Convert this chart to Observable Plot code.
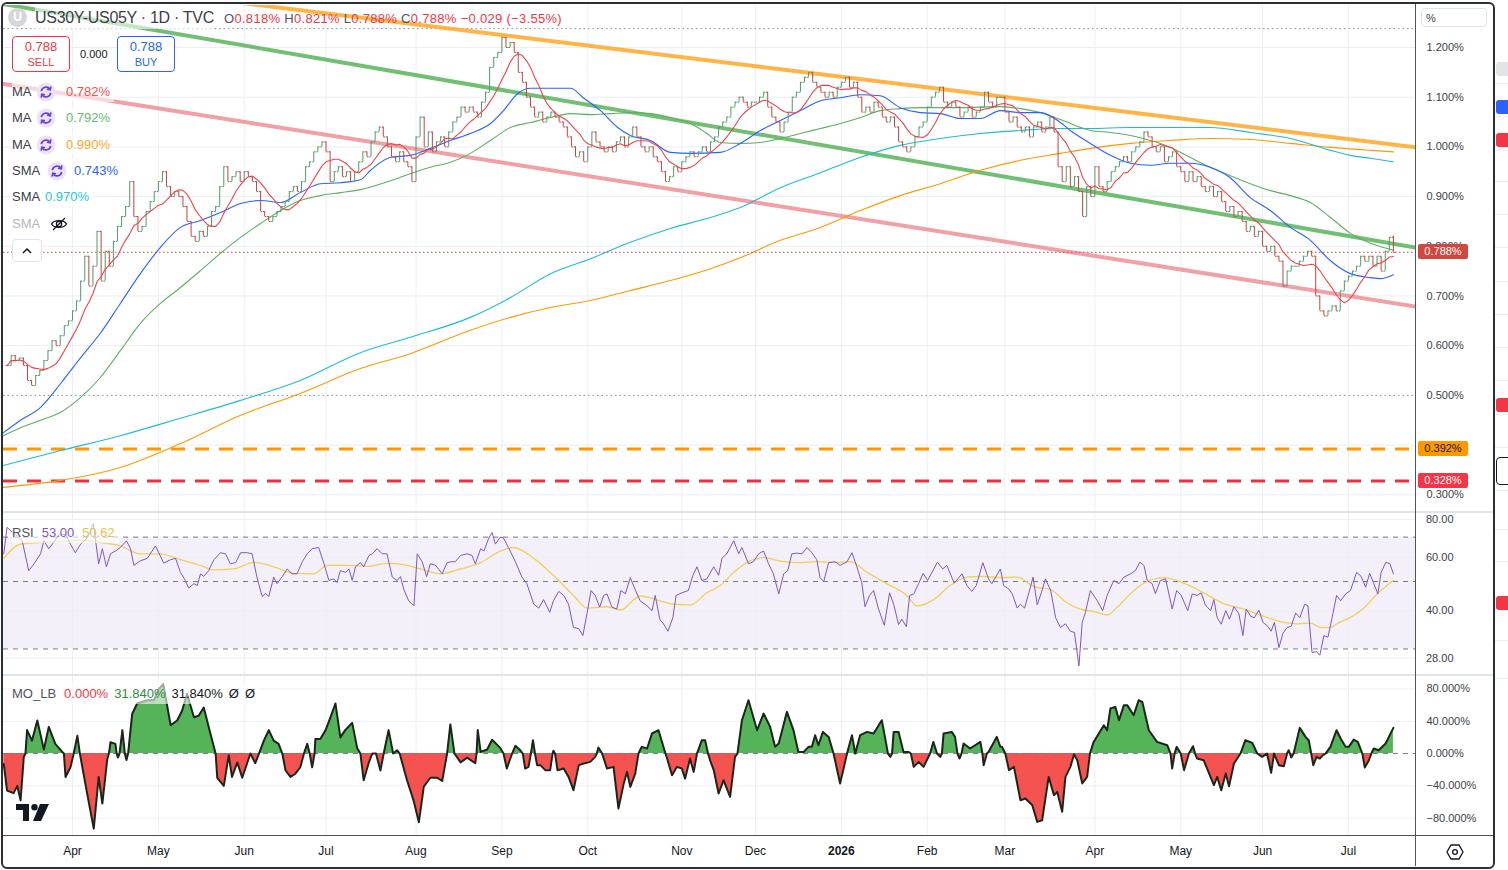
<!DOCTYPE html>
<html><head><meta charset="utf-8">
<script src="https://cdn.jsdelivr.net/npm/d3@7"></script>
<script src="https://cdn.jsdelivr.net/npm/@observablehq/plot@0.6"></script>
<style>
html,body{margin:0;padding:0;background:#fff;}
body{font-family:"Liberation Sans",Arial,sans-serif;color:#131722;}
#wrap{position:relative;width:1508px;height:870px;overflow:hidden;background:#fff;}
.abs{position:absolute;white-space:nowrap;}
.pane{position:absolute;left:3px;}
.pane svg{display:block;overflow:visible;}
.lg{position:absolute;left:12px;height:22px;line-height:22px;font-size:13px;background:rgba(255,255,255,0.6);padding-right:4px;white-space:nowrap;}
.lg span,.lg svg{display:inline-block;vertical-align:middle;}
.badge{position:absolute;left:1418px;width:50px;height:15px;line-height:15px;font-size:11px;text-align:center;border-radius:2px;}
.tk{position:absolute;left:1426px;font-size:11px;line-height:14px;height:14px;color:#3b3e48;white-space:nowrap;}
</style></head>
<body><div id="wrap"></div>
<script>
// ---------------- DATA ----------------
const monthLabels = ["Mar","Apr","May","Jun","Jul","Aug","Sep","Oct","Nov","Dec","2026","Feb","Mar","Apr","May","Jun","Jul"];
const monthBars   = [16,21,21,20,22,21,21,23,18,21,21,19,22,21,20,21,12];

// daily closes (%)
const closes = [
 0.56,0.58,0.57,0.575,0.56,0.53,0.52,0.54,0.55,0.57,0.59,0.61,0.60,0.62,0.64,0.65,
 0.67,0.69,0.73,0.78,0.72,0.76,0.83,0.73,0.79,0.76,0.81,0.84,0.86,0.88,0.93,0.86,0.83,0.84,0.87,0.89,0.91,
 0.93,0.95,0.92,0.90,0.91,0.90,0.88,0.85,0.82,0.81,0.83,0.82,0.84,0.87,0.88,0.92,0.96,0.93,0.94,0.95,0.93,
 0.95,0.94,0.93,0.91,0.87,0.86,0.85,0.86,0.87,0.88,0.89,0.91,0.92,0.91,0.93,0.96,0.97,0.99,1.00,1.01,
 0.99,0.93,0.95,0.96,0.94,0.95,0.93,0.95,0.97,0.99,0.98,1.01,1.03,1.04,1.02,1.00,0.98,0.97,0.99,0.97,0.96,0.93,
 1.02,1.06,1.00,1.03,0.99,1.01,1.02,1.00,1.03,1.05,1.06,1.08,1.07,1.08,1.07,1.06,1.09,1.11,1.16,1.18,1.19,
 1.22,1.20,1.21,1.19,1.15,1.13,1.10,1.08,1.06,1.07,1.05,1.06,1.07,1.06,1.05,1.04,1.02,1.00,0.98,0.99,0.97,
 1.00,1.03,1.01,1.00,0.99,1.00,0.99,1.01,1.02,1.00,1.02,1.04,1.02,1.00,0.99,1.00,0.98,0.97,0.95,0.93,0.94,0.96,0.95,
 0.97,0.98,0.99,0.98,0.99,1.00,0.99,1.01,1.02,1.04,1.05,1.06,1.08,1.09,1.10,1.09,1.08,1.09,
 1.09,1.10,1.11,1.08,1.06,1.05,1.03,1.05,1.07,1.10,1.11,1.13,1.14,1.15,1.13,1.12,1.11,1.10,1.11,1.10,1.12,
 1.13,1.14,1.12,1.13,1.10,1.07,1.08,1.07,1.09,1.08,1.06,1.05,1.06,1.04,1.01,1.00,0.99,1.00,1.02,1.04,1.05,
 1.08,1.10,1.11,1.12,1.09,1.08,1.09,1.08,1.06,1.07,1.08,1.06,1.07,1.08,1.11,1.09,1.08,1.10,1.10,
 1.07,1.05,1.06,1.04,1.03,1.04,1.02,1.04,1.05,1.03,1.04,1.06,1.03,0.96,0.93,0.96,0.92,0.94,0.91,0.86,0.92,0.90,
 0.96,0.92,0.91,0.93,0.95,0.96,0.97,0.98,0.97,0.99,1.00,1.01,1.03,1.02,1.00,0.99,1.00,0.97,0.98,0.99,0.96,
 0.95,0.93,0.95,0.93,0.94,0.92,0.91,0.92,0.90,0.91,0.89,0.87,0.88,0.86,0.87,0.85,0.83,0.84,0.82,0.83,
 0.80,0.79,0.80,0.78,0.77,0.72,0.75,0.76,0.76,0.77,0.78,0.79,0.78,0.70,0.67,0.66,0.67,0.68,0.67,0.71,0.73,
 0.74,0.75,0.76,0.78,0.77,0.78,0.76,0.78,0.75,0.79,0.818,0.788
];
const lastBarHigh = 0.821;

// moving averages: [bar index, value]
const smaBlue = [[-0.9,0.425],[3.3,0.450],[8.2,0.476],[13.1,0.524],[18,0.576],[22.8,0.625],[27.7,0.685],[32.6,0.745],[37.5,0.798],[42.4,0.838],[47.3,0.852],[52.2,0.868],[57.1,0.886],[62,0.892],[66.9,0.888],[71.7,0.908],[76.6,0.926],[81.5,0.928],[86.4,0.934],[88.9,0.953],[93.8,0.979],[98.6,0.983],[103.5,0.997],[108.4,1.013],[113.3,1.027],[118.2,1.047],[121.4,1.073],[124.8,1.107],[128,1.118],[132.9,1.118],[137.8,1.118],[140.9,1.099],[145.1,1.073],[149.3,1.039],[152.4,1.023],[157.3,1.013],[162.2,0.989],[167.1,0.987],[174.4,0.989],[179.3,1.007],[184.2,1.033],[189.1,1.053],[194,1.073],[198.9,1.093],[203.8,1.099],[208.7,1.105],[213.5,1.103],[218.4,1.079],[223.3,1.069],[228.2,1.067],[233.1,1.057],[238,1.057],[242.9,1.073],[247.8,1.069],[252.7,1.069],[257.6,1.049],[260,1.033],[264.9,1.007],[269.8,0.983],[274.7,0.967],[279.6,0.963],[284.5,0.967],[289.3,0.967],[294.2,0.959],[299.1,0.938],[304,0.898],[308.9,0.872],[313.8,0.838],[318.7,0.812],[323.6,0.771],[328.5,0.745],[333.4,0.737],[335.8,0.735],[339,0.743]];
const maGreen = [[-0.9,0.419],[3.3,0.435],[8.2,0.450],[13.1,0.466],[18,0.496],[22.8,0.536],[27.7,0.590],[32.6,0.645],[37.5,0.685],[42.4,0.717],[47.3,0.751],[52.2,0.786],[57.1,0.818],[62,0.846],[66.9,0.872],[71.7,0.892],[76.6,0.902],[81.5,0.908],[86.4,0.914],[93.8,0.932],[98.6,0.946],[103.5,0.959],[108.4,0.969],[113.3,0.987],[118.2,1.013],[123.1,1.039],[128,1.049],[132.9,1.059],[137.8,1.067],[142.7,1.065],[147.5,1.067],[152.4,1.069],[157.3,1.067],[162.2,1.059],[167.1,1.047],[170.8,1.029],[174.4,1.009],[179.3,1.007],[184.2,1.009],[189.1,1.017],[194,1.027],[198.9,1.037],[203.8,1.047],[208.7,1.059],[213.5,1.073],[218.4,1.077],[223.3,1.079],[233.1,1.079],[242.9,1.081],[247.8,1.077],[252.7,1.069],[257.6,1.055],[264.9,1.033],[269.8,1.029],[274.7,1.023],[279.6,1.013],[284.5,0.999],[289.3,0.979],[294.2,0.959],[299.1,0.942],[304,0.926],[308.9,0.912],[313.8,0.902],[318.7,0.888],[323.6,0.858],[328.5,0.826],[333.4,0.806],[339,0.792]];
const smaCyan = [[-0.9,0.359],[13.1,0.389],[27.7,0.419],[42.4,0.454],[57.1,0.490],[71.7,0.530],[86.4,0.586],[98.6,0.617],[113.3,0.657],[123.1,0.697],[132.9,0.745],[142.7,0.775],[152.4,0.808],[162.2,0.836],[172,0.858],[179.3,0.878],[189.1,0.918],[198.9,0.948],[208.7,0.979],[218.4,1.003],[228.2,1.017],[238,1.027],[247.8,1.033],[257.6,1.037],[264.9,1.037],[274.7,1.039],[284.5,1.039],[294.2,1.039],[304,1.029],[313.8,1.017],[323.6,0.993],[328.5,0.983],[333.4,0.977],[339,0.970]];
const maOrange = [[-0.9,0.315],[13.1,0.329],[27.7,0.355],[42.4,0.403],[57.1,0.460],[71.7,0.504],[86.4,0.554],[98.6,0.584],[113.3,0.631],[123.1,0.657],[132.9,0.677],[142.7,0.691],[152.4,0.711],[162.2,0.731],[172,0.755],[179.3,0.777],[189.1,0.812],[198.9,0.838],[208.7,0.872],[218.4,0.902],[228.2,0.926],[238,0.953],[247.8,0.973],[257.6,0.987],[264.9,0.997],[274.7,1.007],[284.5,1.013],[294.2,1.017],[304,1.015],[313.8,1.007],[323.6,0.999],[333.4,0.993],[339,0.990]];

// trend lines: [bar index, value]
const trendOrange = [[50,1.297],[344.4,0.999]];
const trendGreen  = [[-1.6,1.2885],[344.4,0.7976]];
const trendPink   = [[-1.6,1.1276],[344.4,0.6789]];
const levelOrange = 0.392, levelRed = 0.328, lastPrice = 0.788;
const dottedLevels = [1.238, 0.5];
const priceTicks = [0.3,0.4,0.5,0.6,0.7,0.8,0.9,1.0,1.1,1.2];

// RSI and its MA: [bar index, value]
const rsi = [[-0.8,61.7],[0,75.4],[1.3,72.5],[2.5,70.6],[3.7,68.1],[5.3,54.3],[6.6,57.2],[8.2,61.7],[9,68.1],[10.2,64.1],[11.4,67.2],[12.7,71.3],[14.3,71.3],[15.5,66.4],[16.7,62.2],[18,66.4],[19.6,69.5],[21.1,77.4],[22.4,57.2],[23.3,64.1],[24.3,55.9],[25.3,61.7],[26.5,63],[27.7,64.7],[29.2,68.1],[30.2,64.1],[31,56.5],[32.6,58.5],[34.3,59.6],[36.3,65.5],[37.1,62.2],[38.3,57.5],[40,59],[41.2,59.6],[42.4,53.6],[43.6,50.4],[44.4,47.6],[45.7,49.2],[46.5,48.5],[47.3,53],[48.1,52],[49.3,54.3],[50.6,59],[52.2,62.2],[53.4,61.7],[54.6,57.2],[55.9,57.7],[57.1,62.2],[58.7,62.2],[59.9,61.7],[61.2,51],[62.4,44.6],[63.2,45.7],[64,44.6],[65.2,51.7],[66,49.2],[67.3,51.9],[68.5,55],[69.7,53],[70.9,53],[72.2,58.1],[73.4,61.7],[74.6,64.1],[76.2,64.7],[77.5,57.2],[78.7,50.4],[79.9,51],[80.7,49.6],[81.5,54.3],[82.8,53.6],[83.6,55],[84.4,50.4],[85.2,55.9],[86.4,57.7],[87.2,55.9],[88.5,60.9],[89.3,61.7],[90.5,64.1],[91.7,61.7],[92.9,61.7],[94.2,51.7],[95.4,50.4],[96.2,51.9],[97,47.2],[98.2,43.2],[99.5,41.6],[100.3,61.7],[101.5,58.1],[102.6,51.9],[103.5,57.2],[104.8,56.5],[106.4,53],[107.6,57.7],[108.8,58.1],[109.6,58.1],[110.9,60.9],[112.5,61.7],[113.7,60.9],[114.5,57.2],[115.8,64.1],[116.6,63],[117.8,69.5],[118.6,72.5],[119.4,66.4],[120.6,70],[121.4,69.5],[122.6,64.7],[124.3,58.1],[125.9,51.7],[127.1,49.2],[128.8,42.1],[130,40.9],[131.2,43.6],[132.7,39.6],[133.6,43.2],[134.9,46.4],[136.1,45],[137.3,42.1],[138.5,35.3],[139.8,35],[140.8,33.2],[141.8,39.2],[142.8,46.7],[143.8,45],[144.9,41.2],[145.9,45],[146.7,45.5],[147.9,41.2],[149.1,40.6],[150.1,46.7],[151.2,45.6],[152.4,51.5],[153.6,47],[154.8,43.2],[156.5,41.6],[157.7,40.1],[158.5,45],[159.6,37.6],[160.5,36.3],[161.6,34.3],[162.8,38],[163.6,45],[165,45.9],[166.6,46.7],[167.7,52.4],[168.7,55.9],[169.9,50.4],[171.1,51],[172.8,55.9],[174,52.4],[174.8,59.6],[176,61.7],[177.7,68.1],[178.9,61.7],[179.7,64.7],[181.3,57.2],[182.5,58.1],[183.8,61.7],[185,63],[186.2,57.2],[187.4,53],[188.7,45.5],[189.9,53],[190.9,54.3],[191.9,61.7],[193.1,62],[194.4,61.7],[195.6,64.7],[196.8,62.2],[198,59],[198.8,51.5],[199.7,50],[200.9,57.7],[202.5,58.1],[203.7,56.5],[205.4,58.1],[206.6,62.2],[207.8,55.9],[209,49.6],[209.8,41.3],[210.9,45],[211.9,46.7],[213.1,40.6],[214.5,35.9],[215.8,45.9],[216.8,42.1],[218,36.1],[218.8,37.6],[219.9,35.5],[220.7,45],[221.7,45.5],[222.9,49.2],[224,53.2],[225.1,50.4],[226.4,54.3],[227.5,57.9],[228.8,55],[229.8,56.5],[231.6,49.4],[233.5,53],[234.7,48.5],[235.9,46.4],[237,48.5],[238.6,57.7],[240,51],[240.8,49.2],[242.9,55],[243.7,48.5],[245,47.2],[245.8,45.5],[247,40.9],[247.8,42.1],[248.8,40.9],[249.9,46.1],[250.9,51.7],[251.9,41.9],[252.9,45.9],[253.9,51],[255.2,46.7],[256.4,38],[257.6,35.3],[258.8,36.3],[260,34.3],[261,34],[262.1,26.4],[262.9,36.7],[263.7,39.6],[264.9,46.7],[266.6,43.2],[267.9,40.1],[269,45],[270.6,50.4],[271.9,49.2],[273.1,51.7],[274.7,53],[275.9,54.3],[277,57.9],[278,56.5],[278.8,50.4],[280,49.2],[280.8,45.6],[282,50.4],[283.3,51],[284.9,40.6],[286,46.7],[287.1,45],[288.7,40.1],[289.8,45.5],[291,45],[292,45.9],[293,41.9],[294.3,40.1],[295.1,43.6],[295.9,38],[296.9,36.2],[298,40.1],[298.9,37.6],[300,41.3],[301.2,39.2],[302.2,33.2],[303,40.6],[304.1,38.4],[305,38],[306.1,40.3],[307.1,36.7],[308.3,35.6],[309.1,34.3],[309.9,36.7],[311,30.3],[312,33.8],[313,35.3],[314,35.6],[315.1,39.4],[316.1,38],[317.3,42.1],[318.1,41.6],[319.1,29.2],[320.2,29.4],[321,28.6],[322,33.2],[323,32.8],[324,38],[325.1,45],[326.1,43.2],[327.3,45.5],[328.5,46.7],[330,53.6],[331.1,52],[332.2,47.9],[333.2,53.2],[334.2,49.2],[335.2,45.5],[336,53.6],[337.1,57.7],[338.1,57.4],[339,53]];
const rsiMA = [[-0.8,59.6],[3.3,66.4],[8.2,67.2],[13.1,67.7],[18,68.5],[22.9,67.2],[27.7,65.5],[32.6,61.7],[37.5,61.7],[42.4,59],[47.3,56.5],[50.6,54.6],[55.5,55],[60.3,57.8],[65.2,55.9],[70.1,53.2],[75,53],[78.3,56.5],[83.2,56.5],[88.1,56.1],[92.9,57.4],[97,56.8],[101.1,55],[106,53],[110.9,55],[115.8,57.7],[120.6,63],[123.9,64.7],[128.8,59.6],[133.6,52.4],[138.5,45],[141.8,40.9],[146.7,41.3],[150,40.3],[154.8,44.8],[159.7,43.2],[163,42.1],[167.1,41.9],[171.1,45.9],[174.4,48.5],[177.7,53.6],[180.9,57.7],[185,59.9],[189.9,58.1],[194,57.7],[198,58.1],[202.1,57.8],[206.2,58.1],[210.3,53.6],[215.1,49.2],[220,45],[222.5,41.6],[226.6,43.6],[230.6,48.5],[234.7,51.7],[238.8,52],[242.9,51.5],[247,51.7],[251.1,48.1],[255.2,47],[259.2,42.5],[263.3,40.3],[265.7,39.9],[269,38.8],[271.5,41.2],[274.7,45.6],[278,49.4],[282.9,51.5],[287.8,49.4],[292.6,45.9],[297.5,42.3],[302.4,40.6],[307.3,38.4],[312.2,36.7],[315.5,36.3],[318.7,36.5],[321.2,35.3],[323.6,35.3],[325.2,36.3],[328.5,38.1],[331.8,40.9],[335,45.5],[338.3,49.6],[339,50.62]];
const rsiTicks = [28,40,60,80];

// MO_LB oscillator (%): [bar index, value]
const moLB = [[-0.8,-13],[0,-46],[1.6,-49],[2.5,-40],[3.3,-58],[4.1,-4],[4.5,0],[4.9,29],[6.1,16],[7.4,41],[9,5],[10.2,33],[11.8,12],[13.5,2],[13.9,0],[14.3,-29],[15.5,-17],[16.3,0],[17.2,22],[17.8,0],[19.6,-50],[21.2,-93],[22.4,-29],[23.3,-62],[24.5,-7],[24.9,0],[25.3,14],[26.5,12],[26.8,0],[27.1,-5],[27.5,0],[28.2,29],[28.8,0],[29.2,-8],[29.6,0],[30.6,49],[31.8,62],[34.3,66],[35.9,66],[37.1,80],[38.2,86],[40,35],[41.6,41],[42.8,53],[44,74],[45.7,45],[46.9,47],[48.1,57],[49.7,25],[51,0],[51.4,-30],[53,-40],[54.2,-2],[55,-29],[56.3,-11],[57.5,-30],[58.7,-12],[59.5,0],[60.7,-12],[61.6,0],[62.8,16],[64,29],[65.2,16],[66.4,12],[67.3,0],[68.1,-21],[69.3,-29],[70.5,-25],[71.7,-17],[72.6,0],[73.4,12],[74,0],[74.6,-17],[75.2,0],[75.4,18],[76.6,18],[77.9,29],[79.1,45],[80.3,62],[81.5,20],[82.7,29],[84.4,38],[85.6,7],[86.4,0],[87.2,-33],[88.4,-12],[89.3,0],[90.2,0],[91.3,-21],[92.1,0],[93.3,29],[94.4,0],[95.4,4],[96,0],[97.8,-33],[99.4,-58],[100.7,-85],[101.9,-41],[103.5,-30],[105.2,-30],[106.4,-34],[107.6,0],[108.4,36],[109.4,0],[110.9,-11],[112.5,-5],[114.5,-12],[114.8,0],[115.1,29],[115.8,2],[117.4,5],[118.6,17],[120.6,7],[121.4,0],[122.2,-18.6],[123.5,0],[124.3,9.5],[125.5,4],[126.1,0],[126.7,-18.6],[127.5,-16.5],[128.1,0],[128.6,16.5],[129.1,0],[129.6,-14.4],[130.4,-14.4],[131.6,-20.6],[132.8,-20.6],[133.4,0],[133.6,3.3],[134,0],[134.6,-20.6],[136.1,-18.6],[137.3,-28.9],[138.5,-45.4],[139.8,-14.4],[141,-12.4],[142.6,-10.3],[143.8,-4.1],[144.2,0],[144.6,7.4],[145.5,0],[146.7,-18.6],[148.3,-16.5],[149.5,-68],[150.8,-37],[151.6,-22.7],[152.4,-41.3],[153.6,-24.8],[154.4,0],[155.2,8.3],[156.5,6.2],[157.7,24.8],[159.3,28.9],[160.5,8.3],[161,0],[161.4,-6.2],[162.6,-26.8],[163.8,-16.5],[165,-18.6],[165.8,-31],[167,-6.2],[167.9,-22.7],[168.7,0],[169.9,16.5],[170.7,16.5],[171.4,0],[171.9,-8.3],[172.8,-20.6],[174,-49.5],[175.2,-33],[176.8,-53.7],[178,-4.1],[178.6,0],[179.7,41.3],[181.3,66],[183.4,28.9],[185,49.5],[186.6,33],[187.8,8.3],[188.7,12.4],[190.7,51.6],[192.3,28.9],[193.5,2],[194.8,2],[196,8.3],[196.8,8.3],[197.6,22.7],[198.4,10.3],[199.5,26.8],[200.9,20.6],[202.1,0],[203.7,-37],[205.4,0],[206.6,22.7],[207.4,0],[208.6,22.7],[210.3,26.8],[211.9,24.8],[213.9,41.3],[215.4,0],[216,-4.1],[216.4,0],[216.8,26.8],[218,26.8],[219.2,2],[220.4,2],[221,0],[221.7,-16.5],[222.9,-10.3],[224.1,-16.5],[225.7,0],[226.5,14.4],[227.4,0],[228.2,-4.1],[228.6,0],[229,24.8],[231,26.8],[231.8,20.6],[232.4,0],[232.9,-6.2],[233.4,0],[233.9,12.4],[235.5,6.2],[238,14.4],[238.5,0],[238.8,-14.4],[239.6,0],[240,2],[242,20.6],[242.9,8.3],[243.3,8.3],[244.1,0],[245,-20.6],[246.2,-16.5],[247.8,-57.8],[249,-55.7],[250.7,-64],[251.9,-84.6],[253.1,-82.6],[254.7,-28.9],[256,-51.6],[256.8,-47.5],[258,-72.2],[258.8,-28.9],[260,-16.5],[260.9,-1],[261.7,-8.3],[262.9,-37],[264.1,-28.9],[264.8,0],[265.7,14.4],[268.2,35],[269,28.9],[269.8,55.7],[271,57.8],[271.9,41.3],[273.1,59.9],[273.9,59.9],[275.5,47.5],[276.7,66],[277.6,64],[279.2,28.9],[281.2,14.4],[283.7,10.3],[284.5,0],[284.9,-18.6],[285.5,0],[286,8.3],[287,0],[287.8,-20.6],[289,0],[290,9.1],[290.5,0],[291,-6.2],[292.6,-8.3],[295.1,-39.2],[295.9,-28.9],[296.9,-45.4],[298,-24.8],[298.8,-40.5],[300,-12.4],[301.6,0],[302.8,16.5],[304.5,13.2],[305.7,0],[306.9,-4.1],[308.1,0],[309.1,-23.9],[309.8,0],[311,-14.4],[312.2,-15.7],[313,0],[313.4,4.1],[313.7,0],[314,-5],[314.6,0],[316.1,31.8],[317.5,20.6],[318.3,16.5],[318.9,0],[319.4,-14.4],[320.2,-4.1],[321,-6.2],[321.8,-2],[322.4,0],[323.6,8.3],[325.1,28.9],[326.1,18.6],[327.3,8.3],[328.1,8.3],[329.3,17.3],[330.3,14.4],[331.4,0],[332,-17.3],[333,-8.3],[333.6,0],[334.2,6.2],[335.4,4.1],[337.1,12.4],[339,31.84]];
const moTicks = [-80,-40,0,40,80];

// ---------------- BUILD ----------------
const starts = [0, ...d3.cumsum(monthBars).slice(0, -1)];
const monthTicks = monthLabels.map((label, k) => ({label, i: starts[k]})).slice(1);
const monthIdx = monthTicks.map(d => d.i);

const bars = closes.map((c, i) => {
  const o = i === 0 ? c : closes[i - 1];
  return {i, o, c, h: Math.max(o, c), l: Math.min(o, c)};
});
bars[bars.length - 1].h = lastBarHigh;
const upBars = bars.filter(d => d.c >= d.o), dnBars = bars.filter(d => d.c < d.o);

const UP = "#4f9a6b", DN = "#c2443f", GRID = "#eceef2", AX = "#3b3e48";
const FONT = '"Liberation Sans",Arial,sans-serif';
const common = {width: 1490, marginLeft: 0, marginRight: 78, marginTop: 0, marginBottom: 0,
  style: {fontFamily: FONT, fontSize: "11px", color: AX, background: "transparent", overflow: "visible"}};
const X = {type: "linear", domain: [-0.87, 344.4], axis: null};
const px = d => d[0], py = d => d[1];
const pct3 = d => d.toFixed(3) + "%";

const pricePlot = Plot.plot({...common, height: 506, x: X,
  y: {domain: [0.2664, 1.2845], axis: null},
  marks: [
    Plot.gridY(priceTicks.filter(t => Math.abs(t - 0.5) > 1e-9), {stroke: GRID, strokeOpacity: 1}),
    Plot.gridX(monthIdx, {stroke: GRID, strokeOpacity: 1}),
    Plot.ruleY(dottedLevels, {stroke: "#8a8e99", strokeDasharray: "1.5,3"}),
    Plot.ruleY([levelOrange], {stroke: "#ff9800", strokeWidth: 3, strokeDasharray: "14,10"}),
    Plot.ruleY([levelRed], {stroke: "#e8323f", strokeWidth: 3, strokeDasharray: "14,10"}),
    Plot.line(trendPink, {x: px, y: py, stroke: "#ef8f95", strokeWidth: 4, strokeOpacity: 0.85, clip: true}),
    Plot.line(trendGreen, {x: px, y: py, stroke: "#4caf50", strokeWidth: 4, strokeOpacity: 0.8, clip: true}),
    Plot.line(trendOrange, {x: px, y: py, stroke: "#ffa726", strokeWidth: 4, strokeOpacity: 0.85, clip: true}),
    Plot.line(maOrange, {x: px, y: py, stroke: "#ff9800", strokeWidth: 1.1, curve: "monotone-x"}),
    Plot.line(smaCyan, {x: px, y: py, stroke: "#1fbcd2", strokeWidth: 1.1, curve: "monotone-x"}),
    Plot.line(maGreen, {x: px, y: py, stroke: "#5fae63", strokeWidth: 1.1, curve: "monotone-x"}),
    Plot.line(smaBlue, {x: px, y: py, stroke: "#2962ff", strokeWidth: 1.1, curve: "monotone-x"}),
    Plot.ruleX(upBars, {x: "i", y1: "l", y2: "h", stroke: UP}),
    Plot.link(upBars, {x1: d => d.i - 0.42, x2: "i", y1: "o", y2: "o", stroke: UP}),
    Plot.link(upBars, {x1: "i", x2: d => d.i + 0.42, y1: "c", y2: "c", stroke: UP}),
    Plot.ruleX(dnBars, {x: "i", y1: "l", y2: "h", stroke: DN}),
    Plot.link(dnBars, {x1: d => d.i - 0.42, x2: "i", y1: "o", y2: "o", stroke: DN}),
    Plot.link(dnBars, {x1: "i", x2: d => d.i + 0.42, y1: "c", y2: "c", stroke: DN}),
    Plot.lineY(bars, Plot.windowY({k: 8, anchor: "end"}, {x: "i", y: "c", stroke: "#e8474a", strokeWidth: 1.1})),
    Plot.ruleY([lastPrice], {stroke: "#d0473d", strokeDasharray: "1.5,2.5"}),
    // 0.400% is hidden behind the 0.392% badge and 0.800% is drawn clipped below
    Plot.axisY(priceTicks.filter(t => Math.abs(t - 0.4) > 1e-9 && Math.abs(t - 0.8) > 1e-9),
      {anchor: "right", tickSize: 0, tickPadding: 11, tickFormat: pct3, label: null, fontSize: 11})
  ]});

const rsiPlot = Plot.plot({...common, height: 161, x: X,
  y: {type: "log", domain: [24.72, 83.72], axis: null},
  marks: [
    Plot.rect([0], {x1: () => -0.87, x2: () => 344.4, y1: () => 30, y2: () => 70, fill: "#7e57c2", fillOpacity: 0.09}),
    Plot.gridY(rsiTicks, {stroke: GRID, strokeOpacity: 1}),
    Plot.gridX(monthIdx, {stroke: GRID, strokeOpacity: 1}),
    Plot.ruleY([70, 50, 30], {stroke: "#787b86", strokeDasharray: "5,5"}),
    Plot.line(rsiMA, {x: px, y: py, stroke: "#f2cf5b", strokeWidth: 1.3, curve: "monotone-x"}),
    Plot.line(rsi, {x: px, y: py, stroke: "#7e57c2", strokeWidth: 1})
  ]});

const moPlot = Plot.plot({...common, height: 159, x: X,
  y: {domain: [-101.5, 95.4], axis: null},
  marks: [
    Plot.gridY(moTicks.filter(t => t !== 0), {stroke: GRID, strokeOpacity: 1}),
    Plot.gridX(monthIdx, {stroke: GRID, strokeOpacity: 1}),
    Plot.areaY(moLB, {x: px, y1: () => 0, y2: d => Math.max(0, d[1]), fill: "#4caf50", fillOpacity: 0.95}),
    Plot.areaY(moLB, {x: px, y1: () => 0, y2: d => Math.min(0, d[1]), fill: "#f44a47", fillOpacity: 0.95}),
    Plot.ruleY([0], {stroke: "#787b86", strokeDasharray: "5,5"}),
    Plot.line(moLB, {x: px, y: py, stroke: "#1b261b", strokeWidth: 2}),
    Plot.axisY(moTicks, {anchor: "right", tickSize: 0, tickPadding: 11, label: null, fontSize: 11,
      tickFormat: d => (d < 0 ? "\u2212" : "") + Math.abs(d).toFixed(3) + "%"})
  ]});

const timePlot = Plot.plot({...common, height: 30, x: X, y: {domain: [0, 1], axis: null},
  marks: [
    Plot.text(monthTicks.filter(d => d.label !== "2026"), {x: "i", y: () => 0.5, text: "label", fontSize: 12, fill: "#131722"}),
    Plot.text(monthTicks.filter(d => d.label === "2026"), {x: "i", y: () => 0.5, text: "label", fontSize: 12, fontWeight: "bold", fill: "#131722"})
  ]});

const wrap = document.getElementById("wrap");
function place(plot, top) { const d = document.createElement("div"); d.className = "pane"; d.style.top = top + "px"; d.appendChild(plot); wrap.appendChild(d); }
place(pricePlot, 5); place(rsiPlot, 513); place(moPlot, 676); place(timePlot, 836);

function add(html) { wrap.insertAdjacentHTML("beforeend", html); }

// separators & frame
add('<div class="abs" style="left:3px;top:511px;width:1490px;height:2px;background:#e0e3eb"></div>');
add('<div class="abs" style="left:3px;top:674px;width:1490px;height:2px;background:#e0e3eb"></div>');
add('<div class="abs" style="left:3px;top:835px;width:1490px;height:1px;background:#50535e"></div>');
add('<div class="abs" style="left:1415px;top:4px;width:1px;height:862px;background:#50535e"></div>');
add('<div class="abs" style="left:1px;top:2px;width:1490px;height:863px;border:2px solid #2a2e39;border-radius:6px;"></div>');

// RSI tick labels, placed with the library's log scale
const ry = rsiPlot.scale("y");
rsiTicks.forEach(t => add(`<div class="tk" style="top:${513 + ry.apply(t) - 7}px">${t.toFixed(2)}</div>`));

// price badges (positions from the library's y scale)
const sy = pricePlot.scale("y");
// 0.800% label, mostly covered by the last-price badge
add(`<div class="abs" style="left:1426px;top:${5 + sy.apply(0.8) - 7}px;height:${sy.apply(lastPrice) - sy.apply(0.8) - 0.5}px;overflow:hidden"><div class="tk" style="position:static">${pct3(0.8)}</div></div>`);
function badge(v, bg, fg) {
  const top = 5 + sy.apply(v) - 7.5;
  add(`<div class="badge" style="top:${top}px;background:${bg};color:${fg}">${v.toFixed(3)}%</div>`);
}
badge(lastPrice, "#d0473d", "#fff");
badge(levelOrange, "#ff9800", "#131722");
badge(levelRed, "#f23645", "#fff");
add('<div class="abs" style="left:1421px;top:8px;height:19px;border:1px solid #e0e3eb;border-radius:4px;font-size:11px;line-height:19px;padding-left:4px;box-sizing:border-box;width:66px;color:#3b3e48">%</div>');

// header
add('<div class="abs" style="left:8px;top:8px;width:19px;height:19px;border-radius:50%;background:#d5d6da;color:#fff;font-size:12px;font-weight:bold;text-align:center;line-height:19px">U</div>');
add('<div class="abs" style="left:35px;top:7px;font-size:16px;letter-spacing:-0.3px;line-height:22px;color:#3b3e48;background:rgba(255,255,255,0.6)">US30Y-US05Y · 1D · TVC</div>');
const R = "#f23645";
add(`<div class="abs" style="left:224px;top:9px;font-size:13px;letter-spacing:0.3px;line-height:20px;color:#50535e">O<span style="color:${R}">0.818%</span> H<span style="color:${R}">0.821%</span> L<span style="color:${R}">0.788%</span> C<span style="color:${R}">0.788%</span> <span style="color:${R}">\u22120.029 (\u22123.55%)</span></div>`);

// sell / buy
add(`<div class="abs" style="left:12px;top:36px;width:58px;height:36px;box-sizing:border-box;border:1px solid ${R};border-radius:4px;background:#fff;text-align:center;color:${R}"><div style="font-size:13px;line-height:17px;margin-top:1px">0.788</div><div style="font-size:11px;line-height:15px">SELL</div></div>`);
add('<div class="abs" style="left:80px;top:47px;font-size:11px;line-height:14px;color:#131722">0.000</div>');
add('<div class="abs" style="left:117px;top:36px;width:58px;height:36px;box-sizing:border-box;border:1px solid #2962ff;border-radius:4px;background:#fff;text-align:center;color:#2962ff"><div style="font-size:13px;line-height:17px;margin-top:1px">0.788</div><div style="font-size:11px;line-height:15px">BUY</div></div>');

// indicator legend rows
const icon = '<svg width="20" height="20" viewBox="0 0 20 20"><circle cx="10" cy="10" r="9.5" fill="#ebe4f8"/><path d="M5.3 9.2 A4.8 4.8 0 0 1 13.9 7" fill="none" stroke="#6a3fd3" stroke-width="1.7"/><path d="M14.7 10.8 A4.8 4.8 0 0 1 6.1 13" fill="none" stroke="#6a3fd3" stroke-width="1.7"/><path d="M14.8 4.4 L14.3 7.8 L11 7.2" fill="none" stroke="#6a3fd3" stroke-width="1.6"/><path d="M5.2 15.6 L5.7 12.2 L9 12.8" fill="none" stroke="#6a3fd3" stroke-width="1.6"/></svg>';
const eye = '<svg width="18" height="18" viewBox="0 0 18 18"><path d="M1.5 9 C4 4.5 14 4.5 16.5 9 C14 13.5 4 13.5 1.5 9 Z" fill="none" stroke="#131722" stroke-width="1.3"/><circle cx="9" cy="9" r="2.6" fill="none" stroke="#131722" stroke-width="1.3"/><path d="M3 15 L15 3" stroke="#131722" stroke-width="1.3"/></svg>';
function row(y, label, lw, ic, gap, val, col, labCol) {
  add(`<div class="lg" style="top:${y - 11}px"><span style="width:${lw}px;color:${labCol || "#3b3e48"}">${label}</span>${ic ? ic : ""}<span style="margin-left:${gap}px;color:${col}">${val}</span></div>`);
}
row(91, "MA", 24, icon, 10, "0.782%", "#ef5350");
row(117, "MA", 24, icon, 10, "0.792%", "#66bb6a");
row(144, "MA", 24, icon, 10, "0.990%", "#ffa726");
row(170, "SMA", 35, icon, 7, "0.743%", "#2962ff");
row(196, "SMA", 33, "", 0, "0.970%", "#26c6da");
add(`<div class="lg" style="top:212px"><span style="width:38px;color:#b2b5be">SMA</span>${eye}</div>`);
add('<div class="abs" style="left:12px;top:239px;width:30px;height:23px;box-sizing:border-box;border:1px solid #e0e3eb;border-radius:4px;background:#fff"><svg width="28" height="21" viewBox="0 0 28 21"><path d="M10 13 L14 9 L18 13" fill="none" stroke="#131722" stroke-width="1.5"/></svg></div>');

// RSI and MO legends
add('<div class="lg" style="top:521px;font-size:13px"><span style="color:#50535e">RSI</span><span style="margin-left:8px;color:#7e57c2">53.00</span><span style="margin-left:8px;color:#e6c24a">50.62</span></div>');
add('<div class="lg" style="top:682px;font-size:13px"><span style="color:#50535e">MO_LB</span><span style="margin-left:8px;color:#f23645">0.000%</span><span style="margin-left:6px;color:#2e8b3a">31.840%</span><span style="margin-left:6px;color:#131722">31.840%</span><span style="margin-left:6px">\u00d8</span><span style="margin-left:6px">\u00d8</span></div>');

// TradingView logo
add('<svg class="abs" style="left:16px;top:804px" width="34" height="17" viewBox="0 0 34 17"><path d="M0 0 H13 V17 H7 V6 H0 Z" fill="#131722"/><circle cx="18.5" cy="3.2" r="3.2" fill="#131722"/><path d="M24 0 H33 L25 17 H17 Z" fill="#131722"/></svg>');
// settings icon
add('<svg class="abs" style="left:1446px;top:843px" width="18" height="18" viewBox="0 0 18 18"><path d="M5 2 H13 L17 9 L13 16 H5 L1 9 Z" fill="none" stroke="#131722" stroke-width="1.3"/><circle cx="9" cy="9" r="2.4" fill="none" stroke="#131722" stroke-width="1.3"/></svg>');

// right sliver UI fragments
add('<div class="abs" style="left:1496px;top:62px;width:12px;height:14px;background:#e3e4e8;border-radius:3px 0 0 3px"></div>');
add('<div class="abs" style="left:1496px;top:100px;width:12px;height:14px;background:#2962ff;border-radius:3px 0 0 3px"></div>');
add('<div class="abs" style="left:1496px;top:133px;width:12px;height:14px;background:#f23645;border-radius:3px 0 0 3px"></div>');
add('<div class="abs" style="left:1496px;top:398px;width:12px;height:14px;background:#f23645;border-radius:3px 0 0 3px"></div>');
add('<div class="abs" style="left:1496px;top:457px;width:14px;height:26px;border:1.5px solid #131722;border-radius:4px"></div>');
add('<div class="abs" style="left:1496px;top:596px;width:12px;height:14px;background:#f23645;border-radius:3px 0 0 3px"></div>');
[83,116,150,181,214,247,281,314,347,380,414,447,490,529,561,640,678].forEach(y => add(`<div class="abs" style="left:1495px;top:${y}px;width:13px;height:1px;background:#eceef2"></div>`));
</script>
</body></html>
